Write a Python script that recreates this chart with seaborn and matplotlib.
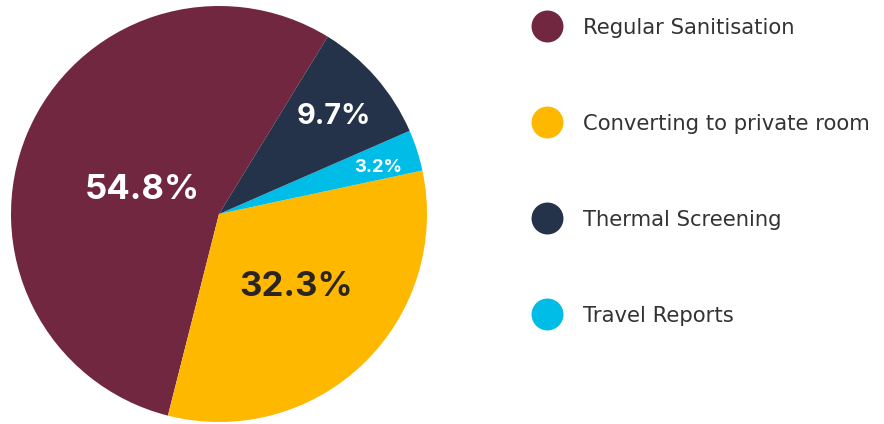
import matplotlib
matplotlib.use("Agg")
import matplotlib.pyplot as plt
from matplotlib.lines import Line2D
import numpy as np
import seaborn as sns

# Survey shares (percent) per hygiene measure
categories = ["Regular Sanitisation", "Converting to private room",
              "Thermal Screening", "Travel Reports"]
shares = [54.8, 32.3, 9.7, 3.2]
colors = ["#722741", "#FFB800", "#243349", "#00BDE8"]

# Styling of the in-slice percentage labels
label_colors = ["white", "#2B2424", "white", "white"]
label_sizes = [25, 25, 20.8, 13.2]
label_radius = [0.393, 0.498, 0.733, 0.80]
label_turn = [3.4, 4.1, 0.0, -1.0]   # small angular nudge (degrees)

# Counter-clockwise drawing order of the wedges
wedge_order = [0, 1, 3, 2]

sns.set_theme(style="white")
plt.rcParams["font.family"] = ["DejaVu Sans"]

fig = plt.figure(figsize=(8.84, 4.24), dpi=100)
fig.patch.set_facecolor("white")
ax = fig.add_axes([11 / 884, 2 / 424, 416 / 884, 416 / 424])

vals = [shares[i] for i in wedge_order]
wedges, _ = ax.pie(vals, colors=[colors[i] for i in wedge_order],
                   startangle=58.5, counterclock=True, radius=1,
                   wedgeprops=dict(linewidth=0))
ax.set_xlim(-1, 1)
ax.set_ylim(-1, 1)
ax.set_aspect("equal")

for w, i in zip(wedges, wedge_order):
    mid = np.deg2rad((w.theta1 + w.theta2) / 2 + label_turn[i])
    r = label_radius[i]
    ax.text(r * np.cos(mid), r * np.sin(mid), f"{shares[i]:.1f}%",
            ha="center", va="center_baseline", fontsize=label_sizes[i],
            fontweight="bold", color=label_colors[i], family=["Inter"])

handles = [Line2D([], [], linestyle="none", marker="o", markersize=23,
                  markerfacecolor=c, markeredgewidth=0) for c in colors]
leg = fig.legend(handles, categories, loc="upper left",
                 bbox_to_anchor=(531 / 884, 1 - 17.7 / 424),
                 bbox_transform=fig.transFigure, frameon=False,
                 fontsize=15.2, handlelength=1.516, handleheight=0.893,
                 handletextpad=0.95, labelspacing=3.60,
                 borderpad=0, borderaxespad=0)
for t in leg.get_texts():
    t.set_color("#333333")

fig.savefig("out.png", dpi=100, facecolor="white")
